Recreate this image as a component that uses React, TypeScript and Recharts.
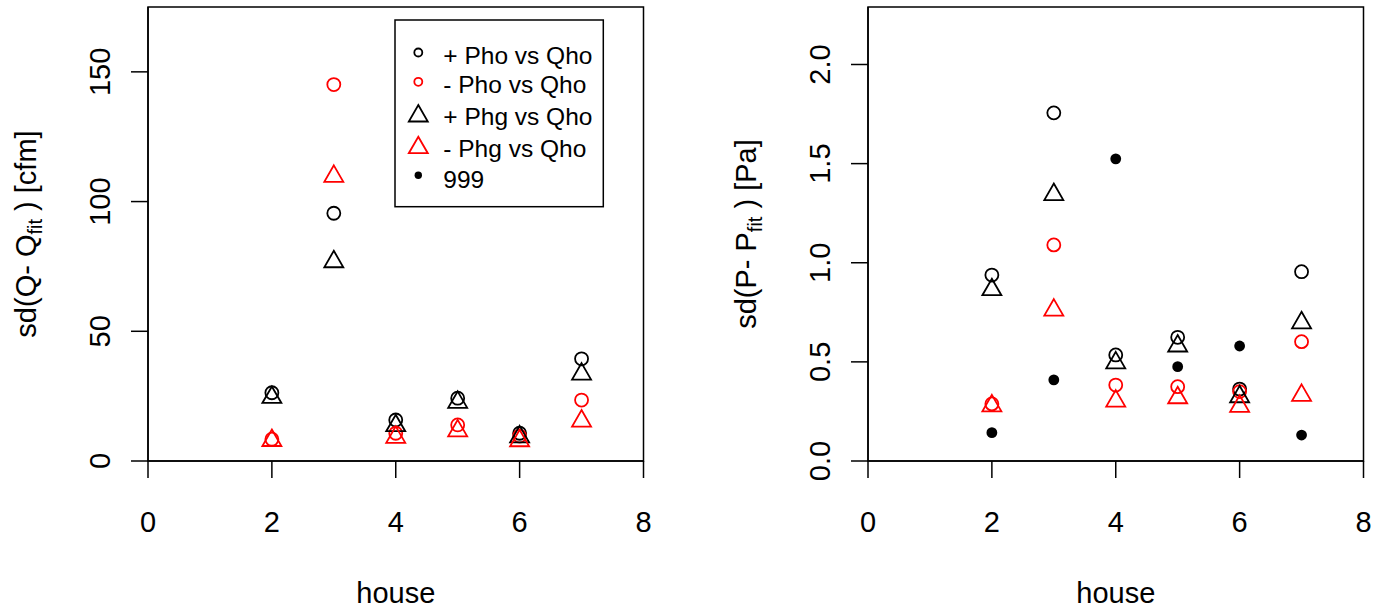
import React from 'react';
import { ScatterChart, Scatter, XAxis, YAxis, ReferenceArea, Legend } from 'recharts';

const FONT = '"Liberation Sans", Arial, Helvetica, sans-serif';

// categories
const houses = [2, 3, 4, 5, 6, 7];
const xTicks = [0, 2, 4, 6, 8];

// left panel: sd(Q - Qfit) [cfm]
const qPlusPho = [26.3, 95.5, 15.8, 24.2, 10.7, 39.4];
const qMinusPho = [8.4, 145.1, 10.7, 13.9, 9.6, 23.5];
const qPlusPhg = [24.5, 76.8, 13.6, 22.6, 9.3, 33.5];
const qMinusPhg = [7.9, 109.7, 9.1, 11.6, 7.8, 15.4];
const q999: number[] = [];
const qTicks = [0, 50, 100, 150];
const qMax = 175;

// right panel: sd(P - Pfit) [Pa]
const pPlusPho = [0.938, 1.756, 0.535, 0.624, 0.363, 0.955];
const pMinusPho = [0.288, 1.09, 0.383, 0.375, 0.35, 0.602];
const pPlusPhg = [0.864, 1.344, 0.495, 0.58, 0.324, 0.697];
const pMinusPhg = [0.278, 0.761, 0.302, 0.319, 0.276, 0.331];
const p999 = [0.143, 0.409, 1.524, 0.476, 0.58, 0.131];
const pTicks = [0, 0.5, 1.0, 1.5, 2.0];
const pMax = 2.29;

const legendLabels = ['+ Pho vs Qho', '- Pho vs Qho', '+ Phg vs Qho', '- Phg vs Qho', '999'];
const legendKinds = ['circle', 'circle', 'triangle', 'triangle', 'dot'];
const legendColors = ['#000000', '#ff0000', '#000000', '#ff0000', '#000000'];

const toPts = (ys: number[]) => ys.map((y, i) => ({ x: houses[i], y }));

const SW = 1.8;

function Marker({ kind, color, cx, cy, small }: any) {
  if (cx == null || cy == null) return null;
  if (kind === 'circle') {
    return <circle cx={cx} cy={cy} r={small ? 4 : 6.5} fill="none" stroke={color} strokeWidth={SW} />;
  }
  if (kind === 'triangle') {
    const pts = `${cx},${cy - 11} ${cx + 9.5},${cy + 5.5} ${cx - 9.5},${cy + 5.5}`;
    return <polygon points={pts} fill="none" stroke={color} strokeWidth={SW} strokeLinejoin="miter" />;
  }
  return <circle cx={cx} cy={cy} r={small ? 3.7 : 5.4} fill={color} stroke="none" />;
}

const XTick = (props: any) => (
  <text x={props.x} y={532} textAnchor="middle" fontSize={29} fill="#000" fontFamily={FONT}>
    {props.payload.value}
  </text>
);

const makeYTick = (fmt: (v: number) => string) => (props: any) => {
  const bx = 110;
  const y = props.y;
  return (
    <text x={bx} y={y} transform={`rotate(-90, ${bx}, ${y})`} textAnchor="middle" fontSize={29} fill="#000" fontFamily={FONT}>
      {fmt(props.payload.value)}
    </text>
  );
};

const XTitle = () => (
  <text x={395.8} y={602.5} textAnchor="middle" fontSize={29} fill="#000" fontFamily={FONT}>house</text>
);

const YTitle = ({ pre, post }: any) => {
  const bx = 36;
  const cy = 234;
  return (
    <text x={bx} y={cy} transform={`rotate(-90, ${bx}, ${cy})`} textAnchor="middle" fontSize={29} fill="#000" fontFamily={FONT}>
      <tspan>{pre}</tspan>
      <tspan fontSize={20} dy={6}>fit</tspan>
      <tspan dy={-6}>{post}</tspan>
    </text>
  );
};

const LegendBox = () => {
  const baselines = [64, 93.3, 125, 156.7, 187.7];
  const ox = 394;
  const oy = 19;
  return (
    <svg width={212} height={192} style={{ display: 'block', overflow: 'visible' }}>
      <rect x={395 - ox} y={20 - oy} width={208.3} height={186.7} fill="#fff" stroke="#000" strokeWidth={1.5} />
      {legendLabels.map((lab, i) => {
        const b = baselines[i] - oy;
        const kind = legendKinds[i];
        const sy = kind === 'triangle' ? b - 9 : kind === 'dot' ? b - 12.5 : b - 11.5;
        return (
          <g key={lab}>
            <Marker kind={kind} color={legendColors[i]} cx={418.3 - ox} cy={sy} small />
            <text x={443.3 - ox} y={b} fontSize={24.5} fill="#000" fontFamily={FONT}>{lab}</text>
          </g>
        );
      })}
    </svg>
  );
};

function Panel({ width, rightMargin, yMax, yTicks, yFmt, sets, titlePre, titlePost, showLegend }: any) {
  const kinds = ['circle', 'circle', 'triangle', 'triangle', 'dot'];
  const colors = ['#000000', '#ff0000', '#000000', '#ff0000', '#000000'];
  return (
    <ScatterChart width={width} height={610} margin={{ top: 7, right: rightMargin, bottom: 0, left: 0 }}>
      <XAxis
        type="number"
        dataKey="x"
        domain={[0, 8]}
        ticks={xTicks}
        allowDataOverflow
        height={149}
        tickSize={17}
        tickMargin={0}
        tickLine={{ stroke: '#000', strokeWidth: 1.5 }}
        axisLine={{ stroke: '#000', strokeWidth: 1.5 }}
        tick={<XTick />}
        interval={0}
        label={<XTitle />}
      />
      <YAxis
        type="number"
        dataKey="y"
        domain={[0, yMax]}
        ticks={yTicks}
        allowDataOverflow
        width={148}
        tickSize={17}
        tickMargin={0}
        tickLine={{ stroke: '#000', strokeWidth: 1.5 }}
        axisLine={{ stroke: '#000', strokeWidth: 1.5 }}
        tick={makeYTick(yFmt)}
        interval={0}
        label={<YTitle pre={titlePre} post={titlePost} />}
      />
      <ReferenceArea x1={0} x2={8} y1={0} y2={yMax} fill="none" fillOpacity={0} stroke="#000" strokeWidth={1.5} ifOverflow="visible" />
      {sets.map((ys: number[], i: number) => (
        <Scatter
          key={i}
          data={toPts(ys)}
          isAnimationActive={false}
          shape={(p: any) => <Marker kind={kinds[i]} color={colors[i]} cx={p.cx} cy={p.cy} />}
        />
      ))}
      {showLegend && (
        <Legend
          layout="vertical"
          align="center"
          verticalAlign="middle"
          content={() => <LegendBox />}
          wrapperStyle={{ left: 394, top: 19, width: 212, height: 192, position: 'absolute' }}
        />
      )}
    </ScatterChart>
  );
}

export default function App() {
  return (
    <div style={{ position: 'absolute', left: 0, top: 0, width: 1385, height: 610, background: '#fff', fontFamily: FONT }}>
      <div style={{ position: 'absolute', left: 0, top: 0 }}>
        <Panel
          width={720}
          rightMargin={76.5}
          yMax={qMax}
          yTicks={qTicks}
          yFmt={(v: number) => String(v)}
          sets={[qPlusPho, qMinusPho, qPlusPhg, qMinusPhg, q999]}
          titlePre="sd(Q- Q"
          titlePost=" ) [cfm]"
          showLegend
        />
      </div>
      <div style={{ position: 'absolute', left: 720, top: 0 }}>
        <Panel
          width={665}
          rightMargin={21.5}
          yMax={pMax}
          yTicks={pTicks}
          yFmt={(v: number) => v.toFixed(1)}
          sets={[pPlusPho, pMinusPho, pPlusPhg, pMinusPhg, p999]}
          titlePre="sd(P- P"
          titlePost=" ) [Pa]"
          showLegend={false}
        />
      </div>
    </div>
  );
}
